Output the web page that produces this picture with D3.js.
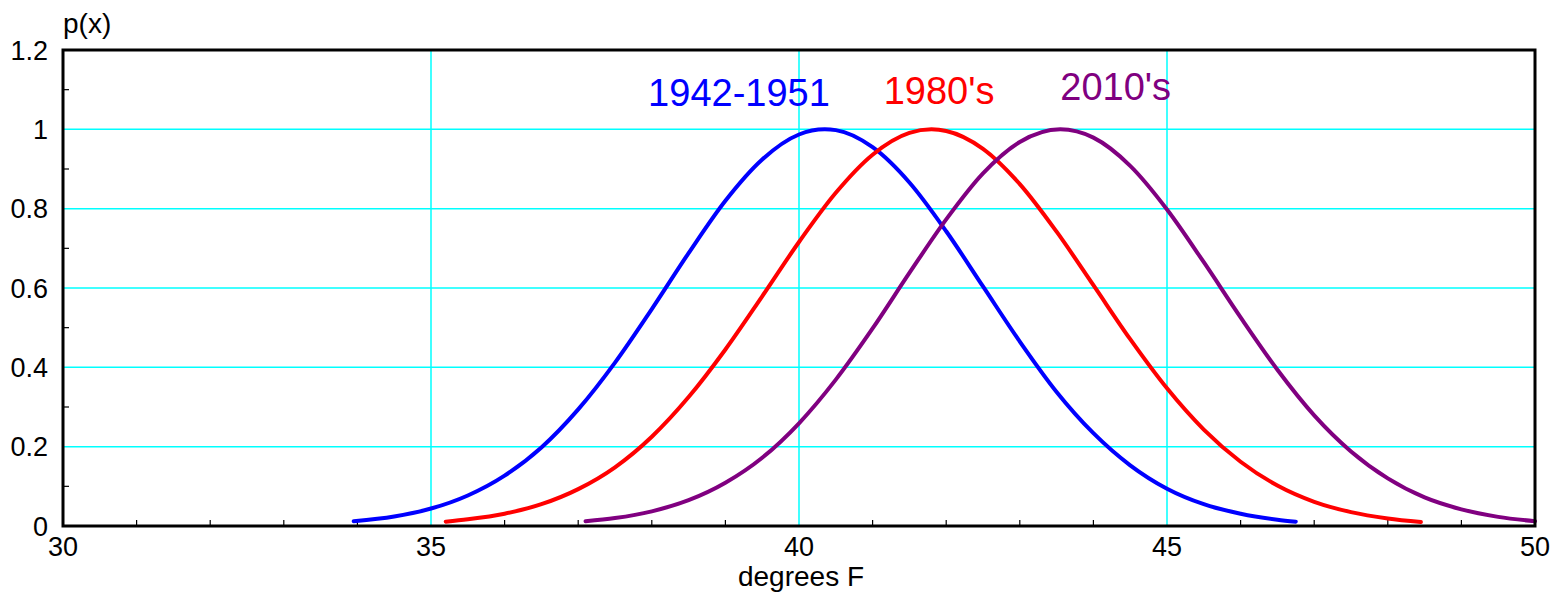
<!DOCTYPE html>
<html>
<head>
<meta charset="utf-8">
<script src="https://cdn.jsdelivr.net/npm/d3@7"></script>
<style>
  html, body { margin: 0; padding: 0; background: #fff; }
  svg { display: block; }
  text { font-family: "Liberation Sans", Arial, Helvetica, sans-serif; }
</style>
</head>
<body>
<svg id="chart" width="1557" height="592"></svg>
<script>
// Temperature distributions p(x), normalised to a peak of 1
const blueX = [33.95, 34.5, 35.0, 35.5, 36.0, 36.5, 37.0, 37.5, 38.0, 38.5, 39.0, 39.5, 40.0, 40.35, 40.5, 41.0, 41.5, 42.0, 42.5, 43.0, 43.5, 44.0, 44.5, 45.0, 45.5, 46.0, 46.5, 46.75];
const blueY = [0.012, 0.024, 0.044, 0.077, 0.127, 0.198, 0.294, 0.412, 0.547, 0.688, 0.820, 0.924, 0.987, 1.0, 0.998, 0.955, 0.866, 0.743, 0.604, 0.465, 0.338, 0.234, 0.153, 0.094, 0.055, 0.031, 0.016, 0.011];

const redX = [35.2, 35.5, 36.0, 36.5, 37.0, 37.5, 38.0, 38.5, 39.0, 39.5, 40.0, 40.5, 41.0, 41.5, 41.8, 42.0, 42.5, 43.0, 43.5, 44.0, 44.5, 45.0, 45.5, 46.0, 46.5, 47.0, 47.5, 48.0, 48.45];
const redY = [0.011, 0.017, 0.031, 0.055, 0.093, 0.148, 0.225, 0.325, 0.445, 0.579, 0.716, 0.840, 0.936, 0.991, 1.0, 0.996, 0.951, 0.862, 0.742, 0.607, 0.471, 0.347, 0.243, 0.162, 0.102, 0.061, 0.035, 0.019, 0.010];

const purpleX = [37.1, 37.5, 38.0, 38.5, 39.0, 39.5, 40.0, 40.5, 41.0, 41.5, 42.0, 42.5, 43.0, 43.55, 44.0, 44.5, 45.0, 45.5, 46.0, 46.5, 47.0, 47.5, 48.0, 48.5, 49.0, 49.5, 50.0];
const purpleY = [0.012, 0.020, 0.037, 0.065, 0.109, 0.172, 0.259, 0.369, 0.498, 0.638, 0.773, 0.889, 0.968, 1.0, 0.979, 0.908, 0.798, 0.665, 0.526, 0.394, 0.279, 0.188, 0.120, 0.072, 0.042, 0.023, 0.012];

const seriesNames = ["1942-1951", "1980's", "2010's"];
const seriesColors = ["#0000ff", "#ff0000", "#800080"];
const labelPos = [[37.95, 1.06], [41.15, 1.065], [43.55, 1.073]]; // data-space anchors of the series labels

const xTicks = [30, 35, 40, 45, 50];
const yTicks = [0, 0.2, 0.4, 0.6, 0.8, 1.0, 1.2];
const yTickLabels = ["0", "0.2", "0.4", "0.6", "0.8", "1", "1.2"];
const xMinor = [31, 32, 33, 34, 36, 37, 38, 39, 41, 42, 43, 44, 46, 47, 48, 49];
const yMinor = [0.1, 0.3, 0.5, 0.7, 0.9, 1.1];

const series = [
  blueX.map((x, i) => [x, blueY[i]]),
  redX.map((x, i) => [x, redY[i]]),
  purpleX.map((x, i) => [x, purpleY[i]])
];

const svg = d3.select("#chart");
const plotLeft = 63, plotRight = 1535, plotTop = 50, plotBottom = 526;

const x = d3.scaleLinear().domain([30, 50]).range([plotLeft, plotRight]);
const y = d3.scaleLinear().domain([0, 1.2]).range([plotBottom, plotTop]);

// grid lines
const grid = svg.append("g").attr("stroke", "#00ffff").attr("stroke-width", 1.5);
grid.selectAll("line.v").data([35, 40, 45]).join("line")
  .attr("x1", d => x(d)).attr("x2", d => x(d))
  .attr("y1", plotTop).attr("y2", plotBottom);
grid.selectAll("line.h").data([0.2, 0.4, 0.6, 0.8, 1.0]).join("line")
  .attr("x1", plotLeft).attr("x2", plotRight)
  .attr("y1", d => y(d)).attr("y2", d => y(d));

// minor ticks, pointing into the plot
const ticks = svg.append("g").attr("stroke", "#000").attr("stroke-width", 1.2);
ticks.selectAll("line.xm").data(xMinor).join("line")
  .attr("x1", d => x(d)).attr("x2", d => x(d))
  .attr("y1", plotBottom).attr("y2", plotBottom - 6);
ticks.selectAll("line.ym").data(yMinor).join("line")
  .attr("x1", plotLeft).attr("x2", plotLeft + 6)
  .attr("y1", d => y(d)).attr("y2", d => y(d));

// curves
const line = d3.line()
  .x(d => x(d[0]))
  .y(d => y(d[1]))
  .curve(d3.curveMonotoneX);

svg.append("g").selectAll("path").data(series).join("path")
  .attr("d", line)
  .attr("fill", "none")
  .attr("stroke", (d, i) => seriesColors[i])
  .attr("stroke-width", 4)
  .attr("stroke-linecap", "round");

// frame
svg.append("rect")
  .attr("x", plotLeft).attr("y", plotTop)
  .attr("width", plotRight - plotLeft).attr("height", plotBottom - plotTop)
  .attr("fill", "none").attr("stroke", "#000").attr("stroke-width", 3);

// tick labels
svg.append("g").selectAll("text").data(xTicks).join("text")
  .attr("x", d => x(d)).attr("y", 556)
  .attr("text-anchor", "middle")
  .attr("font-size", 27)
  .text(d => d);

svg.append("g").selectAll("text").data(yTicks).join("text")
  .attr("x", 48).attr("y", d => y(d) + 9.5)
  .attr("text-anchor", "end")
  .attr("font-size", 27)
  .text((d, i) => yTickLabels[i]);

// axis titles
svg.append("text").attr("x", 63).attr("y", 33).attr("font-size", 28).text("p(x)");
svg.append("text").attr("x", 801).attr("y", 586).attr("text-anchor", "middle")
  .attr("font-size", 28).text("degrees F");

// series labels
svg.append("g").selectAll("text").data(seriesNames).join("text")
  .attr("x", (d, i) => x(labelPos[i][0]))
  .attr("y", (d, i) => y(labelPos[i][1]))
  .attr("font-size", 38)
  .attr("fill", (d, i) => seriesColors[i])
  .text(d => d);
</script>
</body>
</html>
